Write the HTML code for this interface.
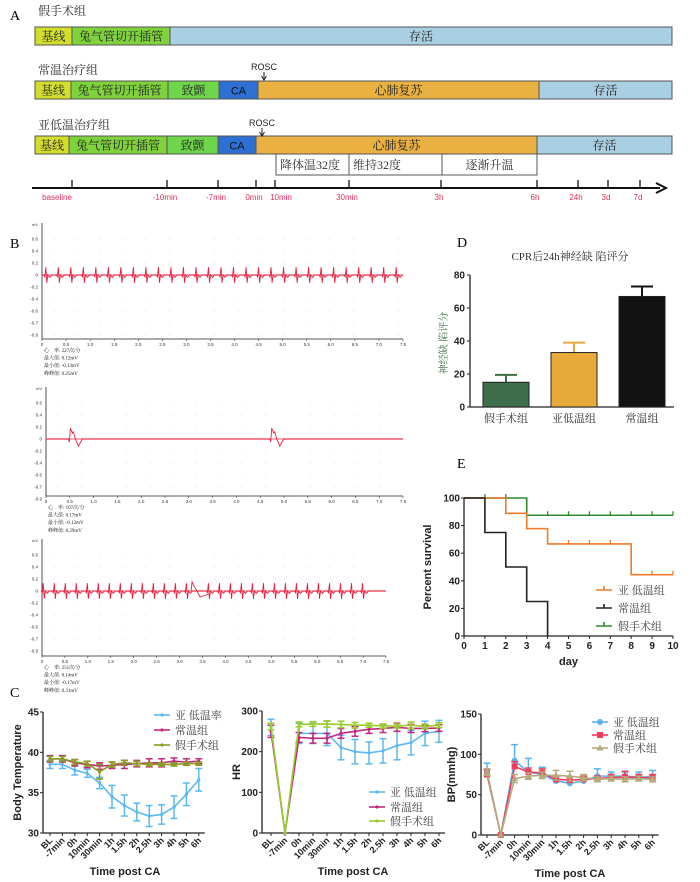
<!DOCTYPE html>
<html><head><meta charset="utf-8">
<style>
body{margin:0;background:#fff;}
svg{display:block;}
.cjk{font-family:"Liberation Serif","Noto Serif CJK SC",serif;}
.sans{font-family:"Liberation Sans","Noto Sans CJK SC",sans-serif;}
</style></head>
<body>
<svg id="fig" width="700" height="882" viewBox="0 0 700 882" xmlns="http://www.w3.org/2000/svg">
<rect width="700" height="882" fill="#fff"/>
<g id="panelA">
<text x="10" y="20" font-size="14" class="cjk">A</text>
</g>
<g id="panelB">
<text x="10" y="248" font-size="14" class="cjk">B</text>
</g>
<g id="panelC">
<text x="10" y="697" font-size="14" class="cjk">C</text>
</g>
<g id="panelD">
<text x="457" y="247" font-size="14" class="cjk">D</text>
</g>
<g id="panelE">
<text x="457" y="468" font-size="14" class="cjk">E</text>
</g>
</svg>
<script>
const NS="http://www.w3.org/2000/svg";
function mk(parent,tag,attrs,txt){const e=document.createElementNS(NS,tag);for(const k in attrs)e.setAttribute(k,attrs[k]);if(txt!==undefined)e.textContent=txt;parent.appendChild(e);return e;}

/* ---------- Panel A: timeline ---------- */
const A=document.getElementById('panelA');
const rowLabels=["假手术组","常温治疗组","亚低温治疗组"];
const rowLabelY=[15,74,129];
const rowBarY=[27,81,136];
const segFill={"基线":"#d2dd2c","兔气管切开插管":"#7fd23c","致颤":"#6fd64c","CA":"#2e6fd4","心肺复苏":"#e9b042","存活":"#a9cfe2"};
const rows=[
 [["基线",35,72],["兔气管切开插管",72,170],["存活",170,672]],
 [["基线",35,71],["兔气管切开插管",71,168],["致颤",168,219],["CA",219,258],["心肺复苏",258,539],["存活",539,672]],
 [["基线",35,69],["兔气管切开插管",69,167],["致颤",167,218],["CA",218,256],["心肺复苏",256,537],["存活",537,672]]
];
rows.forEach((r,i)=>{
  const t=mk(A,'text',{x:38,y:rowLabelY[i],'font-size':12,class:'cjk',fill:'#333'},rowLabels[i]);
  
  
  r.forEach(s=>{
    const rc=mk(A,'rect',{x:s[1],y:rowBarY[i],width:s[2]-s[1],height:18,fill:segFill[s[0]],stroke:'#555','stroke-width':1});
    
    
    const tx=mk(A,'text',{x:(s[1]+s[2])/2,y:rowBarY[i]+13.5,'font-size':s[0]==="CA"?11:12,'text-anchor':'middle',class:s[0]==="CA"?'sans':'cjk',fill:s[0]==="CA"?'#111':'#222'},s[0]);
    
    
  });
});
[[264,65],[262,121]].forEach(p=>{
  const t=mk(A,'text',{x:p[0],y:p[1]+5,'font-size':9,'text-anchor':'middle',class:'sans',fill:'#222'},'ROSC');
  
  
  mk(A,'path',{d:`M${p[0]} ${p[1]+7} V${p[1]+14} M${p[0]-2.5} ${p[1]+11} L${p[0]} ${p[1]+15} L${p[0]+2.5} ${p[1]+11}`,stroke:'#222',fill:'none','stroke-width':1});
});
[["降体温32度",276,349],["维持32度",349,442],["逐渐升温",442,537]].forEach(b=>{
  const r=mk(A,'rect',{x:b[1],y:154,width:b[2]-b[1],height:21,fill:'#fff',stroke:'#555','stroke-width':1});
  
  
  const t=mk(A,'text',{x:b[1]+(b[0]==="逐渐升温"?(b[2]-b[1])/2:4),y:169,'font-size':12,class:'cjk','text-anchor':b[0]==="逐渐升温"?'middle':'start',fill:'#333'},b[0]);
  
  
});
const axl=mk(A,'line',{x1:32,y1:188,x2:660,y2:188,stroke:'#111','stroke-width':2});


mk(A,'path',{d:'M656 183 L666 188 L656 193',fill:'none',stroke:'#111','stroke-width':2});
const tlTicks=[["baseline",72],["-10min",167],["-7min",218],["0min",256],["10min",275],["30min",349],["3h",441],["6h",537],["24h",578],["3d",608],["7d",640]];
tlTicks.forEach(t=>{
  mk(A,'line',{x1:t[1],y1:180,x2:t[1],y2:188,stroke:'#111','stroke-width':1.3});
  const lx=t[0]==="baseline"?t[1]-15:(t[0]==="10min"?t[1]+6:t[1]-2);
  const tx=mk(A,'text',{x:lx,y:200,'font-size':8,'text-anchor':'middle',class:'sans',fill:'#e0305a'},t[0]);
  
  
});

/* ---------- Panel B: ECG traces ---------- */
const B=document.getElementById('panelB');
const ecgYLabels=["0.6","0.4","0.2","0","-0.2","-0.4","-0.6","-0.7","-0.9"];
const ecgXLabels=["0","0.5","1.0","1.5","2.0","2.5","3.0","3.5","4.0","4.5","5.0","5.5","6.0","6.5","7.0","7.5"];
const ecgBeats1=[0.1,0.36,0.62,0.88,1.14,1.4,1.66,1.92,2.18,2.44,2.7,2.96,3.22,3.48,3.74,4.0,4.26,4.52,4.78,5.04,5.3,5.56,5.82,6.08,6.34,6.6,6.86,7.12,7.38];
const ecgBeats2=[0.47,4.7];
const ecgBeats3=[0.05,0.29,0.53,0.77,1.01,1.25,1.49,1.73,1.97,2.21,2.45,2.69,2.93,3.17,3.65,3.89,4.13,4.37,4.61,4.85,5.09,5.33,5.57,5.81,6.05,6.29,6.53,6.77,7.01];
const ecgInfo=[["心　率: 227次/分","最大值: 0.12mV","最小值: -0.13mV","峰峰值: 0.25mV"],
               ["心　率: 107次/分","最大值: 0.17mV","最小值: -0.12mV","峰峰值: 0.29mV"],
               ["心　率: 251次/分","最大值: 0.14mV","最小值: -0.17mV","峰峰值: 0.31mV"]];
const ecgCfg=[{ax:42,right:403,base:275,beats:ecgBeats1,wide:false,axisY:339,info:352},
              {ax:46,right:403,base:439,beats:ecgBeats2,wide:true,axisY:496,info:509},
              {ax:42,right:386,base:591,beats:ecgBeats3,wide:false,axisY:656,info:669}];
ecgCfg.forEach((c,k)=>{
  const g=mk(B,'g',{});
  
  
  const top=c.base-48;
  const xs=v=>c.ax+v/7.5*(c.right-c.ax);
  const ys=v=>c.base-v*60;
  for(let i=0;i<9;i++){
    const yy=[c.base-36,c.base-24,c.base-12,c.base,c.base+12,c.base+24,c.base+36,c.base+48,c.base+60][i];
    const t=mk(g,'text',{x:c.ax-4,y:yy+1.5,'font-size':4.5,'text-anchor':'end',class:'sans',fill:'#333'},ecgYLabels[i]);
    
    
    for(let x=c.ax+12;x<c.right;x+=23) mk(g,'circle',{cx:x,cy:yy,r:0.4,fill:'#aaa'});
  }
  mk(g,'text',{x:c.ax-4,y:top-1,'font-size':4,'text-anchor':'end',class:'sans',fill:'#333'},'mV');
  mk(g,'line',{x1:c.ax,y1:top-4,x2:c.ax,y2:c.axisY,stroke:'#222','stroke-width':0.8});
  mk(g,'line',{x1:c.ax,y1:c.axisY,x2:c.right,y2:c.axisY,stroke:'#222','stroke-width':0.8});
  ecgXLabels.forEach((l,i)=>{const x=xs(i*0.5);
    mk(g,'line',{x1:x,y1:c.axisY,x2:x,y2:c.axisY+2,stroke:'#222','stroke-width':0.5});
    const t=mk(g,'text',{x:x,y:c.axisY+7,'font-size':4.5,'text-anchor':'middle',class:'sans',fill:'#333'},l);
    
    
  });
  mk(g,'line',{x1:c.ax,y1:c.base,x2:c.right,y2:c.base,stroke:'#f07a8a','stroke-width':1.2});
  let d=`M${c.ax} ${c.base}`;
  c.beats.forEach(b=>{const x=xs(b);
    if(c.wide){d+=` L${x} ${c.base} L${x+1} ${ys(-0.05)} L${x+2} ${ys(0.18)} L${x+4} ${ys(0.1)} L${x+5} ${ys(0.12)} L${x+7} ${c.base} L${x+10} ${ys(-0.12)} L${x+14} ${c.base}`;}
    else{d+=` L${x-3} ${c.base} L${x-2} ${ys(-0.03)} L${x-1} ${ys(0.13)} L${x} ${ys(-0.13)} L${x+1} ${c.base} L${x+3} ${ys(-0.04)} L${x+5} ${c.base}`;}
  });
  d+=` L${c.right} ${c.base}`;
  const p=mk(g,'path',{d:d,fill:'none',stroke:'#e8203c','stroke-width':0.9});
  
  
  if(k===2){const x=xs(3.25);mk(g,'path',{d:`M${x} ${c.base} L${x+1} ${ys(0.15)} L${x+3} ${ys(0.08)} L${x+6} ${c.base} L${x+9} ${ys(-0.1)} L${x+18} ${ys(-0.05)}`,fill:'none',stroke:'#e8203c','stroke-width':0.9});}
  ecgInfo[k].forEach((s,i)=>{
    const t=mk(g,'text',{x:c.ax+2,y:c.info+i*7.6,'font-size':5,class:'cjk',fill:'#222'},s);
    
    
  });
});

/* ---------- Panel C: line charts ---------- */
const C=document.getElementById('panelC');
const timeCats=["BL","-7min","0h","10min","30min","1h","1.5h","2h","2.5h","3h","4h","5h","6h"];
const tempHypo=[38.5,38.5,37.8,37.4,36.2,34.5,33.4,32.6,32.1,32.3,33.2,34.8,36.6];
const tempHypoErr=[0.5,0.5,0.6,0.5,0.7,1.4,1.3,1.1,1.3,1.2,1.4,1.4,1.4];
const tempNormo=[39.2,39.2,38.7,38.5,38.3,38.4,38.5,38.6,38.7,38.7,38.9,38.8,38.9];
const tempNormoErr=[0.4,0.4,0.4,0.4,0.4,0.4,0.5,0.4,0.5,0.5,0.4,0.4,0.3];
const tempSham=[39.2,39.2,38.8,38.6,37.6,38.5,38.7,38.6,38.5,38.5,38.5,38.6,38.6];
const tempShamErr=[0.3,0.3,0.3,0.3,0.9,0.3,0.3,0.3,0.2,0.2,0.2,0.2,0.2];
const hrHypo=[260,0,245,245,245,210,200,197,202,215,222,245,250];
const hrHypoErr=[20,0,25,25,30,30,30,27,30,35,30,30,27];
const hrNormo=[250,0,235,233,233,245,250,255,257,260,257,257,258];
const hrNormoErr=[15,0,12,12,12,12,12,10,10,10,10,8,8];
const hrSham=[262,0,267,268,268,267,265,265,263,263,265,262,265];
const hrShamErr=[8,0,6,6,8,8,7,5,5,5,8,6,6];
const bpHypo=[78,0,92,78,75,67,64,67,73,73,73,72,72];
const bpHypoErr=[11,0,20,17,9,4,4,4,9,5,5,6,8];
const bpNormo=[75,0,85,78,77,69,68,69,70,71,72,71,71];
const bpNormoErr=[6,0,6,5,5,4,4,4,3,4,7,4,4];
const bpSham=[78,0,70,73,74,74,73,71,69,70,69,70,69];
const bpShamErr=[4,0,5,4,4,6,6,4,3,3,3,3,3];
const tempTicks=[30,35,40,45];
const hrTicks=[0,100,200,300];
const bpTicks=[0,50,100,150];
const legTemp=["亚 低温率","常温组","假手术组"];
const legHR=["亚 低温组","常温组","假手术组"];
const legBP=["亚 低温组","常温组","假手术组"];

function lineChart(cfg){
  const g=mk(C,'g',{});
  
  
  const ys=v=>cfg.y0+(v-cfg.min)/(cfg.max-cfg.min)*(cfg.y1-cfg.y0);
  const xs=i=>cfg.x0+i*cfg.dx;
  const xEnd=xs(timeCats.length-1)+6;
  const ya=mk(g,'line',{x1:cfg.ax,y1:cfg.y1,x2:cfg.ax,y2:cfg.y0,stroke:'#222','stroke-width':1.3});
  
  
  const xa=mk(g,'line',{x1:cfg.ax,y1:cfg.y0,x2:xEnd,y2:cfg.y0,stroke:'#222','stroke-width':1.3});
  
  
  cfg.ticks.forEach(v=>{const y=ys(v);
    mk(g,'line',{x1:cfg.ax-3,y1:y,x2:cfg.ax,y2:y,stroke:'#222','stroke-width':1});
    const t=mk(g,'text',{x:cfg.ax-4,y:y+3.5,'font-size':10,'font-weight':'bold','text-anchor':'end',class:'sans',fill:'#222'},v);
    
    
  });
  timeCats.forEach((c,i)=>{const x=xs(i);
    mk(g,'line',{x1:x,y1:cfg.y0,x2:x,y2:cfg.y0+3,stroke:'#222','stroke-width':1});
    const t=mk(g,'text',{x:x+3,y:cfg.y0+8,'font-size':9,'font-weight':'bold','text-anchor':'end',class:'sans',fill:'#222',transform:`rotate(-45 ${x+3} ${cfg.y0+8})`},c);
    
    
  });
  const xt=mk(g,'text',{x:cfg.titleX,y:cfg.titleY,'font-size':11,'font-weight':'bold','text-anchor':'middle',class:'sans',fill:'#222'},'Time post CA');
  
  
  const yt=mk(g,'text',{x:cfg.ytX,y:(cfg.y0+cfg.y1)/2,'font-size':11,'font-weight':'bold','text-anchor':'middle',class:'sans',fill:'#222',transform:`rotate(-90 ${cfg.ytX} ${(cfg.y0+cfg.y1)/2})`},cfg.ytitle);
  
  
  cfg.series.forEach((s,si)=>{
    const sg=mk(g,'g',{});
    
    
    s.vals.forEach((v,i)=>{ if(s.err[i]>0){const x=xs(i);
      const lo=s.upOnly?ys(v):ys(v-s.err[i]);
      mk(sg,'line',{x1:x,y1:ys(v+s.err[i]),x2:x,y2:lo,stroke:s.color,'stroke-width':1.5});
      mk(sg,'line',{x1:x-3.5,y1:ys(v+s.err[i]),x2:x+3.5,y2:ys(v+s.err[i]),stroke:s.color,'stroke-width':1.5});
      if(!s.upOnly)mk(sg,'line',{x1:x-3.5,y1:lo,x2:x+3.5,y2:lo,stroke:s.color,'stroke-width':1.5});}});
    const pts=s.vals.map((v,i)=>xs(i)+','+ys(v)).join(' ');
    const pl=mk(sg,'polyline',{points:pts,fill:'none',stroke:s.color,'stroke-width':1.6});
    
    
    s.vals.forEach((v,i)=>{
      const m=marker(sg,s.marker,xs(i),ys(v),s.color);
      
      
    });
    const ly=cfg.legY[si];
    mk(sg,'line',{x1:cfg.legX-8,y1:ly,x2:cfg.legX+8,y2:ly,stroke:s.color,'stroke-width':1.6});
    marker(sg,s.marker,cfg.legX,ly,s.color);
    const lt=mk(sg,'text',{x:cfg.legX+13,y:ly+4,'font-size':11,class:'cjk',fill:'#444'},cfg.legend[si]);
    
    
  });
}
function marker(p,type,x,y,c){
  if(type==='circle')return mk(p,'circle',{cx:x,cy:y,r:3,fill:c});
  if(type==='square')return mk(p,'rect',{x:x-3,y:y-3,width:6,height:6,fill:c});
  if(type==='tri')return mk(p,'path',{d:`M${x} ${y-3.5} L${x+3.5} ${y+2.5} L${x-3.5} ${y+2.5}Z`,fill:c});
  return mk(p,'circle',{cx:x,cy:y,r:1.6,fill:c});
}
lineChart({name:'body-temperature-chart',ax:43,x0:50,dx:12.4,y0:833,y1:712,min:30,max:45,ticks:tempTicks,
  titleX:125,titleY:875,ytX:21,ytitle:'Body Temperature',legX:162,legY:[715,730,745],legend:legTemp,
  series:[{vals:tempHypo,err:tempHypoErr,color:'#5cb8f0',marker:'dot'},
          {vals:tempNormo,err:tempNormoErr,color:'#c3287f',marker:'dot'},
          {vals:tempSham,err:tempShamErr,color:'#8c9a22',marker:'dot'}]});
lineChart({name:'heart-rate-chart',ax:262,x0:271,dx:14,y0:833,y1:711,min:0,max:300,ticks:hrTicks,
  titleX:353,titleY:875,ytX:240,ytitle:'HR',legX:377,legY:[792,807,821],legend:legHR,
  series:[{vals:hrHypo,err:hrHypoErr,color:'#5cb8f0',marker:'dot'},
          {vals:hrNormo,err:hrNormoErr,color:'#c3287f',marker:'dot'},
          {vals:hrSham,err:hrShamErr,color:'#9acd2a',marker:'dot'}]});
lineChart({name:'blood-pressure-chart',ax:481,x0:487,dx:13.8,y0:835,y1:714,min:0,max:150,ticks:bpTicks,
  titleX:570,titleY:877,ytX:455,ytitle:'BP(mmhg)',legX:600,legY:[722,735,748],legend:legBP,
  series:[{vals:bpHypo,err:bpHypoErr,color:'#5cb0f0',marker:'circle',upOnly:true},
          {vals:bpNormo,err:bpNormoErr,color:'#f03c5a',marker:'square',upOnly:true},
          {vals:bpSham,err:bpShamErr,color:'#b4aa7c',marker:'tri'}]});

/* ---------- Panel D: bar chart ---------- */
const D=document.getElementById('panelD');
const barCats=["假手术组","亚低温组","常温组"];
const barVals=[15,33,67];
const barErr=[4.5,6,6];
const barTicks=[0,20,40,60,80];
const barColors=["#3f6e4a","#e9aa3c","#121212"];
(function(){
  const ax=470,y0=407,y1=275,xEnd=674;
  const ys=v=>y0-v/80*(y0-y1);
  const band=(xEnd-ax)/3, bw=46;
  const t=mk(D,'text',{x:570,y:260,'font-size':11,'text-anchor':'middle',class:'cjk',fill:'#333'},'CPR后24h神经缺 陷评分');
  
  
  const ya=mk(D,'line',{x1:ax,y1:y1,x2:ax,y2:y0,stroke:'#222','stroke-width':1.3});
  
  
  const xa=mk(D,'line',{x1:ax,y1:y0,x2:xEnd,y2:y0,stroke:'#222','stroke-width':1.3});
  
  
  barTicks.forEach(v=>{const y=ys(v);
    mk(D,'line',{x1:ax-3,y1:y,x2:ax,y2:y,stroke:'#222'});
    const tt=mk(D,'text',{x:ax-5,y:y+3.5,'font-size':10,'font-weight':'bold','text-anchor':'end',class:'sans',fill:'#222'},v);
    
    
  });
  const yt=mk(D,'text',{x:447,y:343,'font-size':10,'text-anchor':'middle',class:'cjk',fill:'#3f6e4a',transform:'rotate(-90 447 343)'},'神经缺 陷评分');
  
  
  barVals.forEach((v,i)=>{const cx=ax+band*(i+0.5)+2;
    const top=ys(v+barErr[i]);
    mk(D,'line',{x1:cx,y1:ys(v),x2:cx,y2:top,stroke:barColors[i],'stroke-width':2});
    mk(D,'line',{x1:cx-11,y1:top,x2:cx+11,y2:top,stroke:barColors[i],'stroke-width':2});
    const r=mk(D,'rect',{x:cx-bw/2,y:ys(v),width:bw,height:y0-ys(v),fill:barColors[i],stroke:'#222','stroke-width':1});
    
    
    const l=mk(D,'text',{x:cx,y:422,'font-size':11,'text-anchor':'middle',class:'cjk',fill:'#333'},barCats[i]);
    
    
  });
})();

/* ---------- Panel E: survival ---------- */
const E=document.getElementById('panelE');
const dayTicks=[0,1,2,3,4,5,6,7,8,9,10];
const survTicks=[0,20,40,60,80,100];
const hypoDays=[0,2,3,4,8,10];
const hypoSurv=[100,88.9,77.8,66.7,44.4,44.4];
const hypoCens=[5,6,7,9,10];
const normoDays=[0,1,2,3,4];
const normoSurv=[100,75,50,25,0];
const normoCens=[];
const shamDays=[0,3,10];
const shamSurv=[100,87.5,87.5];
const shamCens=[1,2,4,5,6,7,8,9,10];
const survLegend=["亚 低温组","常温组","假手术组"];
(function(){
  const x0=464,x1=673,y0=636,y1=498;
  const xs=d=>x0+d/10*(x1-x0), ys=v=>y0-v/100*(y0-y1);
  const ya=mk(E,'line',{x1:x0,y1:y1,x2:x0,y2:y0,stroke:'#222','stroke-width':1.3});
  
  
  const xa=mk(E,'line',{x1:x0,y1:y0,x2:x1,y2:y0,stroke:'#222','stroke-width':1.3});
  
  
  survTicks.forEach(v=>{const y=ys(v);
    mk(E,'line',{x1:x0-3,y1:y,x2:x0,y2:y,stroke:'#222'});
    const t=mk(E,'text',{x:x0-4,y:y+3.5,'font-size':10,'font-weight':'bold','text-anchor':'end',class:'sans',fill:'#222'},v);
    
    
  });
  dayTicks.forEach(d=>{const x=xs(d);
    mk(E,'line',{x1:x,y1:y0,x2:x,y2:y0+3,stroke:'#222'});
    const t=mk(E,'text',{x:x,y:y0+13,'font-size':10,'font-weight':'bold','text-anchor':'middle',class:'sans',fill:'#222'},d);
    
    
  });
  const xt=mk(E,'text',{x:xs(5),y:665,'font-size':11,'font-weight':'bold','text-anchor':'middle',class:'sans',fill:'#222'},'day');
  
  
  const yt=mk(E,'text',{x:431,y:567,'font-size':11,'font-weight':'bold','text-anchor':'middle',class:'sans',fill:'#222',transform:'rotate(-90 431 567)'},'Percent survival');
  
  
  const series=[[hypoDays,hypoSurv,hypoCens,'#f07a28'],[normoDays,normoSurv,normoCens,'#222'],[shamDays,shamSurv,shamCens,'#2e8a2e']];
  [2,0,1].forEach(si=>{const s=series[si];
    let d=`M${xs(s[0][0])} ${ys(s[1][0])}`;
    for(let i=1;i<s[0].length;i++){d+=` H${xs(s[0][i])} V${ys(s[1][i])}`;}
    const p=mk(E,'path',{d:d,fill:'none',stroke:s[3],'stroke-width':1.6});
    
    
    s[2].forEach(c=>{let v=s[1][0];for(let i=0;i<s[0].length;i++){if(s[0][i]<=c)v=s[1][i];}
      mk(E,'line',{x1:xs(c),y1:ys(v),x2:xs(c),y2:ys(v)-4,stroke:s[3],'stroke-width':1.3});});
  });
  series.forEach((s,i)=>{const y=[590,608,626][i];
    mk(E,'path',{d:`M596 ${y} H612 M604 ${y} V${y-4}`,stroke:s[3],'stroke-width':1.6,fill:'none'});
    const t=mk(E,'text',{x:618,y:y+4,'font-size':11,class:'cjk',fill:'#444'},survLegend[i]);
    
    
  });
})();
</script>
</body></html>
